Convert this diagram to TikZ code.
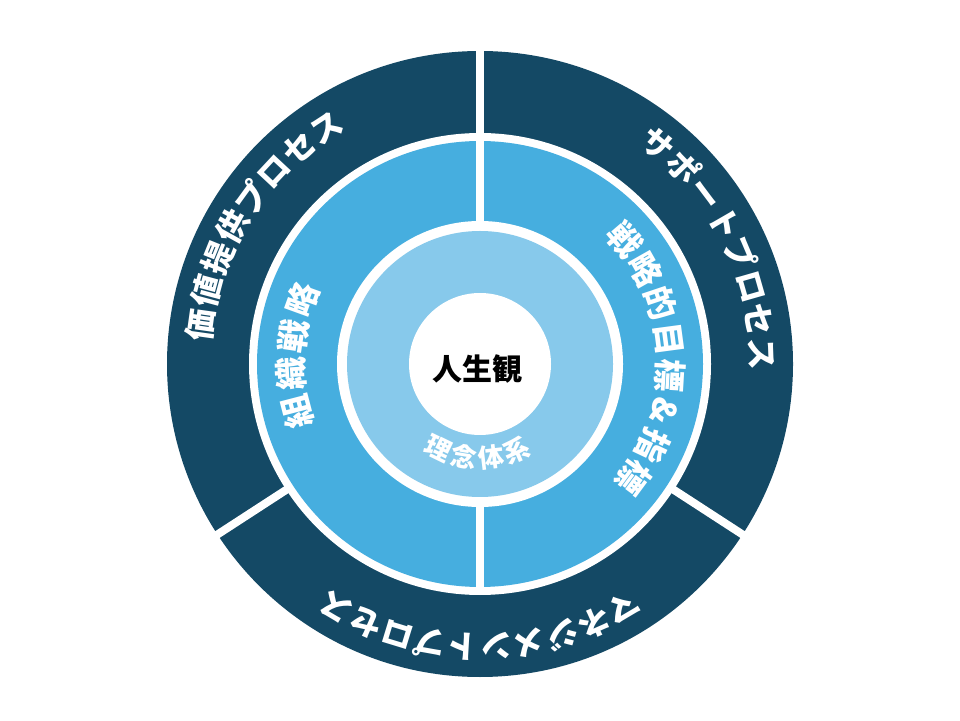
\documentclass[tikz,border=0pt]{standalone}
\usepackage{fontspec}
\newfontfamily\jp{Noto Sans CJK JP}
\definecolor{navy}{RGB}{20,73,101}
\definecolor{midblue}{RGB}{70,174,223}
\definecolor{lightblue}{RGB}{135,201,235}
\tikzset{
  chr/.style={inner sep=0pt, text height=0.88em, text depth=0.12em, text=white},
  outerchr/.style={chr, font=\jp\bfseries\fontsize{32}{32}\selectfont},
  midchr/.style={chr, font=\jp\bfseries\fontsize{33}{33}\selectfont},
  innerchr/.style={chr, font=\jp\bfseries\fontsize{26}{26}\selectfont},
  divider/.style={draw=white, line width=8pt},
}
% #1 name prefix, #2 style, #3 radius, #4 start angle, #5 step, #6 rotation offset, #7 characters
\newcommand\arcchars[7]{%
  \foreach \ch [count=\i from 0] in {#7} {%
    \pgfmathsetmacro\ang{#4+\i*(#5)}%
    \pgfmathsetmacro\rot{\ang+(#6)}%
    \node[#2, rotate=\rot] (#1\i) at (\ang:#3) {\ch};
  }%
}
\begin{document}
\begin{tikzpicture}[x=1pt,y=1pt]
\useasboundingbox (0,0) rectangle (960,720);
\fill[white] (0,0) rectangle (960,720);
\begin{scope}[shift={(480,356)}]
  % rings
  \fill[navy] (0,0) circle (313);
  \fill[white] (0,0) circle (231);
  \fill[midblue] (0,0) circle (223);
  \fill[white] (0,0) circle (143);
  \fill[lightblue] (0,0) circle (133);
  \fill[white] (0,0) circle (71);
  % dividers
  \draw[divider] (90:136) -- (90:318);
  \draw[divider] (270:136) -- (270:228);
  \draw[divider] (213:227) -- (213:318);
  \draw[divider] (327:227) -- (327:318);
  % centre
  \node[font=\jp\bfseries\fontsize{30}{30}\selectfont, text=black, inner sep=0pt] (core) at (-3,-5) {人生観};
  % inner ring
  \arcchars{inner}{innerchr}{100}{244}{16.4}{90}{理,念,体,系}
  % middle ring
  \arcchars{midL}{midchr}{180}{194.6}{-11.5}{-90}{組,織,戦,略}
  \arcchars{midR}{midchr}{182}{40.6}{-11}{-90}{戦,略,的,目,標,\&,指,標}
  % outer ring
  \arcchars{outL}{outerchr}{274}{172}{-7}{-90}{価,値,提,供,プ,ロ,セ,ス}
  \arcchars{outR}{outerchr}{274}{51}{-7}{-90}{サ,ポ,ー,ト,プ,ロ,セ,ス}
  \arcchars{outB}{outerchr}{275}{-59.4}{-6.8}{-90}{マ,ネ,ジ,メ,ン,ト,プ,ロ,セ,ス}
\end{scope}
\end{tikzpicture}
\end{document}
